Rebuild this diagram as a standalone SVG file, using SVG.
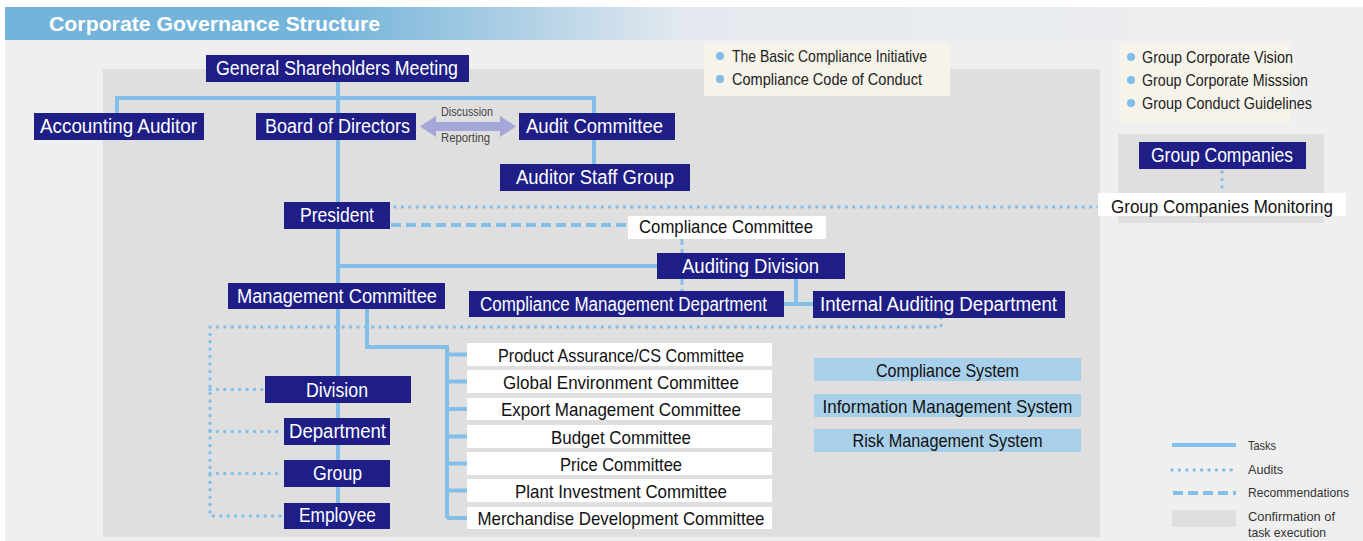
<svg xmlns="http://www.w3.org/2000/svg" width="1363" height="541" viewBox="0 0 1363 541">
<defs>
<linearGradient id="hdr" x1="0" y1="0" x2="1" y2="0">
<stop offset="0" stop-color="#74b4da"/>
<stop offset="0.24" stop-color="#74b4da"/>
<stop offset="0.5" stop-color="#e4e9ef"/>
<stop offset="1" stop-color="#efefef"/>
</linearGradient>
</defs>
<style>
text{font-family:"Liberation Sans",Arial,sans-serif;}
.nv{fill:#1e1e86;}
.nt{fill:#ffffff;font-size:19.5px;text-anchor:middle;}
.wb{fill:#ffffff;}
.wt{fill:#111111;font-size:18.5px;text-anchor:middle;}
.lb{fill:#a9d0ea;}
.bt{fill:#111111;font-size:19px;text-anchor:middle;}
.note{fill:#f6f4ea;}
.nx{fill:#222222;font-size:17px;}
.dot{fill:#7fbde8;}
.task{fill:none;stroke:#82c0ea;stroke-width:4;}
.aud{fill:none;stroke:#82c0ea;stroke-width:3.5;stroke-linecap:round;stroke-dasharray:0 7.4;}
.rec{fill:none;stroke:#82c0ea;stroke-width:4;stroke-dasharray:10 5;}
.lg{fill:#333333;font-size:13px;}
.sm{fill:#444444;font-size:12px;}
</style>
<rect x="0" y="0" width="1363" height="541" fill="#ffffff"/>
<rect x="5" y="7" width="1358" height="534" fill="#efefef"/>
<rect x="5" y="7" width="1358" height="33" fill="url(#hdr)"/>
<text x="49" y="31" fill="#ffffff" font-size="21" font-weight="bold" textLength="331" lengthAdjust="spacingAndGlyphs">Corporate Governance Structure</text>
<rect x="103" y="69" width="997" height="468" fill="#e0dfe0"/>
<rect x="1118" y="134" width="206" height="89" fill="#e0dfe0"/>

<g id="notes">
<rect class="note" x="704" y="43" width="246" height="53"/>
<circle class="dot" cx="720" cy="56" r="4"/>
<circle class="dot" cx="720" cy="79" r="4"/>
<text class="nx" x="732" y="62" textLength="195" lengthAdjust="spacingAndGlyphs">The Basic Compliance Initiative</text>
<text class="nx" x="732" y="85" textLength="190" lengthAdjust="spacingAndGlyphs">Compliance Code of Conduct</text>
<rect class="note" x="1119" y="43" width="171" height="79"/>
<circle class="dot" cx="1131" cy="57" r="4"/>
<circle class="dot" cx="1131" cy="80" r="4"/>
<circle class="dot" cx="1131" cy="103" r="4"/>
<text class="nx" x="1142" y="63" textLength="151" lengthAdjust="spacingAndGlyphs">Group Corporate Vision</text>
<text class="nx" x="1142" y="86" textLength="166" lengthAdjust="spacingAndGlyphs">Group Corporate Misssion</text>
<text class="nx" x="1142" y="109" textLength="170" lengthAdjust="spacingAndGlyphs">Group Conduct Guidelines</text>
</g>

<g id="connectors">
<path class="task" d="M338 82 V516"/>
<path class="task" d="M117 113 V98 H594 V113"/>
<path class="task" d="M594 140 V164"/>
<path class="task" d="M338 266 H657"/>
<path class="task" d="M796 279 V304 M784 304 H813"/>
<path class="task" d="M367 309 V347 H447 V518"/>
<path class="task" d="M447 354.5 H467 M447 381.5 H467 M447 409 H467 M447 436.5 H467 M447 463.5 H467 M447 490.5 H467 M447 518 H467"/>
<path class="aud" d="M395 207 H1098"/>
<path class="aud" d="M1222 172 V193"/>
<path class="aud" d="M941 318 V327 H210 V516 H284"/>
<path class="aud" d="M210 389.5 H265 M210 431.5 H284 M210 473.5 H284"/>
<path class="rec" d="M391 225 H628"/>
<path fill="none" stroke="#82c0ea" stroke-width="3" stroke-dasharray="6 4" d="M682 239 V291"/>
<polygon fill="#a4a7d7" points="420,126.5 436,116 436,122 500,122 500,116 516,126.5 500,137 500,131 436,131 436,137"/>
<text class="sm" x="441" y="116" textLength="52" lengthAdjust="spacingAndGlyphs">Discussion</text>
<text class="sm" x="441" y="142" textLength="49" lengthAdjust="spacingAndGlyphs">Reporting</text>
</g>

<g id="gsm"><rect class="nv" x="206" y="55" width="263" height="27"/><text class="nt" x="337" y="75" textLength="242" lengthAdjust="spacingAndGlyphs">General Shareholders Meeting</text></g>
<g id="accounting-auditor"><rect class="nv" x="34" y="113" width="170" height="27"/><text class="nt" x="118.5" y="133" textLength="157" lengthAdjust="spacingAndGlyphs">Accounting Auditor</text></g>
<g id="board"><rect class="nv" x="256" y="113" width="160" height="27"/><text class="nt" x="337.5" y="133" textLength="145" lengthAdjust="spacingAndGlyphs">Board of Directors</text></g>
<g id="audit-committee"><rect class="nv" x="519" y="113" width="156" height="27"/><text class="nt" x="594.5" y="133" textLength="137" lengthAdjust="spacingAndGlyphs">Audit Committee</text></g>
<g id="auditor-staff"><rect class="nv" x="500" y="164" width="190" height="27"/><text class="nt" x="595" y="184" textLength="158" lengthAdjust="spacingAndGlyphs">Auditor Staff Group</text></g>
<g id="president"><rect class="nv" x="284" y="202" width="106" height="27"/><text class="nt" x="337" y="222" textLength="74" lengthAdjust="spacingAndGlyphs">President</text></g>
<g id="compliance-committee"><rect class="wb" x="628" y="216" width="198" height="23"/><text class="wt" x="726" y="233" font-size="19" textLength="174" lengthAdjust="spacingAndGlyphs">Compliance Committee</text></g>
<g id="auditing-division"><rect class="nv" x="657" y="253" width="188" height="26"/><text class="nt" x="750.5" y="272.5" textLength="137" lengthAdjust="spacingAndGlyphs">Auditing Division</text></g>
<g id="management-committee"><rect class="nv" x="228" y="283" width="217" height="26"/><text class="nt" x="337" y="303" textLength="200" lengthAdjust="spacingAndGlyphs">Management Committee</text></g>
<g id="compliance-mgmt-dept"><rect class="nv" x="469" y="291" width="315" height="26"/><text class="nt" x="623.5" y="311" textLength="287" lengthAdjust="spacingAndGlyphs">Compliance Management Department</text></g>
<g id="internal-auditing-dept"><rect class="nv" x="813" y="291" width="252" height="27"/><text class="nt" x="938.5" y="311" textLength="237" lengthAdjust="spacingAndGlyphs">Internal Auditing Department</text></g>
<g id="division"><rect class="nv" x="265" y="376" width="146" height="27"/><text class="nt" x="337" y="396.5" textLength="62" lengthAdjust="spacingAndGlyphs">Division</text></g>
<g id="department"><rect class="nv" x="284" y="418" width="106" height="27"/><text class="nt" x="337.5" y="438" textLength="97" lengthAdjust="spacingAndGlyphs">Department</text></g>
<g id="group"><rect class="nv" x="284" y="460" width="106" height="27"/><text class="nt" x="337.5" y="480" textLength="49" lengthAdjust="spacingAndGlyphs">Group</text></g>
<g id="employee"><rect class="nv" x="284" y="503" width="106" height="26"/><text class="nt" x="337.5" y="521.5" textLength="77" lengthAdjust="spacingAndGlyphs">Employee</text></g>

<g id="product-assurance"><rect class="wb" x="467" y="343" width="305" height="23"/><text class="wt" x="621" y="361.5" textLength="246" lengthAdjust="spacingAndGlyphs">Product Assurance/CS Committee</text></g>
<g id="global-environment"><rect class="wb" x="467" y="370" width="305" height="23"/><text class="wt" x="621" y="388.5" textLength="236" lengthAdjust="spacingAndGlyphs">Global Environment Committee</text></g>
<g id="export-management"><rect class="wb" x="467" y="398" width="305" height="22"/><text class="wt" x="621" y="416" textLength="240" lengthAdjust="spacingAndGlyphs">Export Management Committee</text></g>
<g id="budget"><rect class="wb" x="467" y="425" width="305" height="23"/><text class="wt" x="621" y="443.5" textLength="140" lengthAdjust="spacingAndGlyphs">Budget Committee</text></g>
<g id="price"><rect class="wb" x="467" y="452" width="305" height="23"/><text class="wt" x="621" y="470.5" textLength="122" lengthAdjust="spacingAndGlyphs">Price Committee</text></g>
<g id="plant-investment"><rect class="wb" x="467" y="479" width="305" height="23"/><text class="wt" x="621" y="497.5" textLength="212" lengthAdjust="spacingAndGlyphs">Plant Investment Committee</text></g>
<g id="merchandise-development"><rect class="wb" x="467" y="507" width="305" height="22"/><text class="wt" x="621" y="525" textLength="287" lengthAdjust="spacingAndGlyphs">Merchandise Development Committee</text></g>

<g id="compliance-system"><rect class="lb" x="814" y="358" width="267" height="23"/><text class="bt" x="947.5" y="376.5" textLength="143" lengthAdjust="spacingAndGlyphs">Compliance System</text></g>
<g id="information-management-system"><rect class="lb" x="814" y="394" width="267" height="23"/><text class="bt" x="947.5" y="412.5" textLength="250" lengthAdjust="spacingAndGlyphs">Information Management System</text></g>
<g id="risk-management-system"><rect class="lb" x="814" y="429" width="267" height="23"/><text class="bt" x="947.5" y="447" textLength="190" lengthAdjust="spacingAndGlyphs">Risk Management System</text></g>

<g id="group-companies"><rect class="nv" x="1139" y="142" width="167" height="27"/><text class="nt" x="1222" y="162" textLength="142" lengthAdjust="spacingAndGlyphs">Group Companies</text></g>
<g id="group-companies-monitoring"><rect class="wb" x="1098" y="193" width="248" height="23"/><text class="wt" x="1222" y="212.5" font-size="19.5" textLength="222" lengthAdjust="spacingAndGlyphs">Group Companies Monitoring</text></g>

<g id="legend">
<path class="task" d="M1172 445 H1236"/>
<path class="aud" d="M1172 470 H1236"/>
<path class="rec" d="M1173 493 H1236"/>
<rect x="1172" y="510" width="64" height="17" fill="#e0dfe0"/>
<text class="lg" x="1248" y="450" textLength="28" lengthAdjust="spacingAndGlyphs">Tasks</text>
<text class="lg" x="1248" y="474" textLength="35" lengthAdjust="spacingAndGlyphs">Audits</text>
<text class="lg" x="1248" y="497" textLength="101" lengthAdjust="spacingAndGlyphs">Recommendations</text>
<text class="lg" x="1248" y="521" textLength="87" lengthAdjust="spacingAndGlyphs">Confirmation of</text>
<text class="lg" x="1248" y="537" textLength="78" lengthAdjust="spacingAndGlyphs">task execution</text>
</g>
</svg>
